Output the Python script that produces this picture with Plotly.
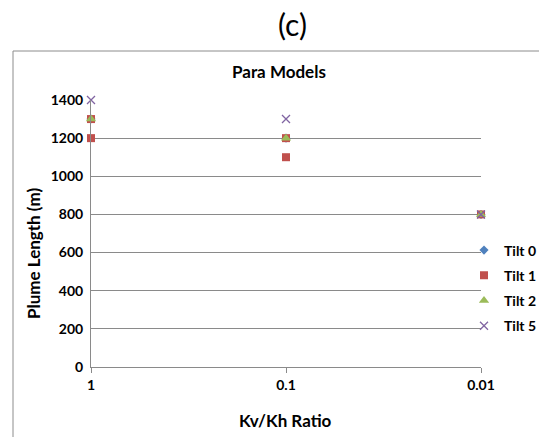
import plotly.graph_objects as go

categories = ["1", "0.1", "0.01"]
tilt0 = [1300, 1200, 800]
tilt1_x = ["1", "1", "0.1", "0.1", "0.01"]
tilt1 = [1300, 1200, 1200, 1100, 800]
tilt2 = [1300, 1200, 800]
tilt5 = [1400, 1300, 800]

FONT = "Lato, Liberation Sans, sans-serif"
GRID = "#8a8a8a"

# plot area in pixels
PL, PR, PT, PB = 91, 481, 100, 367
PW, PH = PR - PL, PB - PT


def px(x):
    return (x - PL) / PW


def py(y):
    return (PB - y) / PH


fig = go.Figure()
fig.add_trace(go.Scatter(x=categories, y=tilt0, mode="markers", name="Tilt 0", legendgroup="a",
                         marker=dict(symbol="diamond", size=7, color="#4F81BD"), cliponaxis=False))
fig.add_trace(go.Scatter(x=tilt1_x, y=tilt1, mode="markers", name="Tilt 1", legendgroup="b",
                         marker=dict(symbol="square", size=8, color="#C0504D"), cliponaxis=False))
fig.add_trace(go.Scatter(x=categories, y=tilt2, mode="markers", name="Tilt 2", legendgroup="c",
                         marker=dict(symbol="triangle-up", size=9, color="#9BBB59"), cliponaxis=False))
fig.add_trace(go.Scatter(x=categories, y=tilt5, mode="markers", name="Tilt 5", legendgroup="d",
                         marker=dict(symbol="x-thin", size=8, color="#8064A2",
                                     line=dict(width=1.3, color="#8064A2")), cliponaxis=False))

fig.update_layout(
    width=539, height=437,
    margin=dict(l=PL, r=539 - PR, t=PT, b=437 - PB, autoexpand=False),
    paper_bgcolor="white", plot_bgcolor="white",
    font=dict(family=FONT, size=13, color="black"),
    showlegend=True,
    legend=dict(x=px(464), y=py(288), xanchor="left", yanchor="middle",
                font=dict(family=FONT, size=14, color="black", weight="bold"),
                traceorder="grouped", tracegroupgap=4, itemwidth=30,
                bgcolor="rgba(0,0,0,0)"),
    xaxis=dict(type="category", categoryorder="array", categoryarray=categories,
               range=[0, 2], showgrid=False, showline=True, linecolor=GRID,
               ticks="outside", ticklen=5, tickcolor=GRID, automargin=False,
               tickfont=dict(family=FONT, size=14, weight="bold")),
    yaxis=dict(range=[0, 1400], dtick=200, showgrid=True, gridcolor=GRID, gridwidth=1,
               zeroline=False, showline=True, linecolor=GRID, ticks="", automargin=False,
               ticklabelstandoff=4,
               tickfont=dict(family=FONT, size=14, weight="bold")),
    annotations=[
        dict(text="(c)", xref="paper", yref="paper", x=px(292), y=py(24),
             xanchor="center", yanchor="middle", showarrow=False,
             font=dict(family=FONT, size=30, color="black")),
        dict(text="<b>Para Models</b>", xref="paper", yref="paper", x=px(279),
             y=py(72), xanchor="center", yanchor="middle", showarrow=False,
             font=dict(family=FONT, size=17, color="black")),
        dict(text="<b>Kv/Kh Ratio</b>", xref="paper", yref="paper", x=px(285),
             y=py(420), xanchor="center", yanchor="middle", showarrow=False,
             font=dict(family=FONT, size=17, color="black")),
        dict(text="<b>Plume Length (m)</b>", xref="paper", yref="paper", x=px(33),
             y=py(254), xanchor="center", yanchor="middle", showarrow=False, textangle=-90,
             font=dict(family=FONT, size=17, color="black")),
    ],
    shapes=[
        dict(type="rect", xref="paper", yref="paper",
             x0=px(13), x1=px(560), y0=py(460), y1=py(51),
             line=dict(color="#8c8c8c", width=1), layer="below"),
    ],
)

fig.write_html("out.html", config={"displayModeBar": False},
               post_script="document.body.style.margin='0';")
